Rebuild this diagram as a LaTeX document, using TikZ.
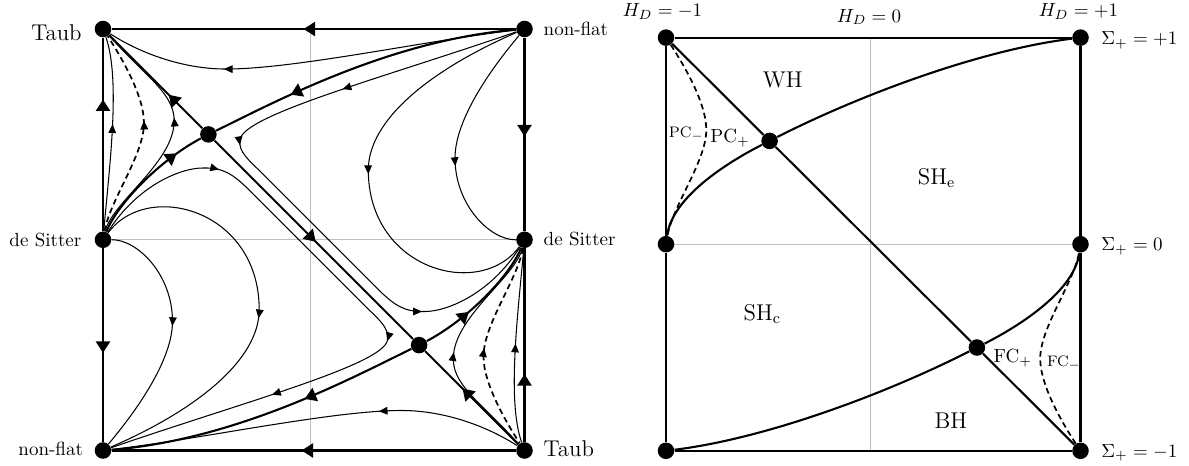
\documentclass[tikz,border=0pt]{standalone}
\usetikzlibrary{arrows.meta, positioning, decorations.markings}

\tikzset{
  fw/.style={postaction={decorate, decoration={markings,
      mark=at position #1 with {\arrow{Triangle[length=4.6pt, width=4pt]}}}}},
  bw/.style={postaction={decorate, decoration={markings,
      mark=at position #1 with {\arrowreversed{Triangle[length=4.6pt, width=4pt]}}}}},
  Fw/.style={postaction={decorate, decoration={markings,
      mark=at position #1 with {\arrow{Triangle[length=6pt, width=7.4pt]}}}}},
  Bw/.style={postaction={decorate, decoration={markings,
      mark=at position #1 with {\arrowreversed{Triangle[length=6pt, width=7.4pt]}}}}}
}

\begin{document}
\begin{tikzpicture}[
    x=0.526pt, y=-0.526pt,
    dot/.style={circle, fill=black, inner sep=0pt, minimum size=8.7pt},
    rim/.style={line width=1.1pt},
    separ/.style={line width=1.1pt},
    thinflow/.style={line width=0.55pt},
    dashline/.style={line width=0.9pt, dash pattern=on 3pt off 2pt},
    axisline/.style={gray!50, line width=0.5pt},
    lab/.style={inner sep=0pt, font=\normalsize},
    labL/.style={inner sep=0pt, font=\large},
    labS/.style={inner sep=0pt, font=\footnotesize}
  ]
  \useasboundingbox (0,0) rectangle (1189,465);

  % left panel: phase portrait
  \draw[axisline] (310.5,29) -- (310.5,450.5);
  \draw[axisline] (103,239) -- (524.5,239);

  \node[dot] (taubA) at (103,29) {};
  \node[dot] (nfA)   at (524.5,29) {};
  \node[dot] (dsA)   at (103,239.75) {};
  \node[dot] (dsB)   at (524.5,239.75) {};
  \node[dot] (nfB)   at (103,450.5) {};
  \node[dot] (taubB) at (524.5,450.5) {};
  \node[dot] (sadA)  at (208.4,134.4) {};
  \node[dot] (sadB)  at (419.1,345.1) {};

  \node[labL, anchor=base east] (taubAl) at (82,40.7) {Taub};
  \node[lab, anchor=base east]  (dsAl)   at (81.7,246.5) {de Sitter};
  \node[lab, anchor=base east]  (nfBl)   at (83.3,455) {non-flat};
  \node[lab, anchor=base west]  (nfAl)   at (543.3,35) {non-flat};
  \node[lab, anchor=base west]  (dsBl)   at (543.3,245.5) {de Sitter};
  \node[labL, anchor=base west] (taubBl) at (543.3,456.7) {Taub};

  % boundary and diagonal
  \draw[rim, Fw=0.525] (nfA) -- (taubA);
  \draw[rim, Fw=0.51] (nfA) -- (dsB);
  \draw[rim, Fw=0.68] (dsA) -- (taubA);
  \draw[rim, Fw=0.54] (dsA) -- (nfB);
  \draw[rim, Fw=0.53] (taubB) -- (nfB);
  \draw[rim, Fw=0.35] (taubB) -- (dsB);
  \draw[rim, Fw=0.36] (sadA) -- (taubA);
  \draw[rim, Fw=0.51] (sadA) -- (sadB);
  \draw[rim, Fw=0.6] (taubB) -- (sadB);

  % separatrices
  \draw[separ, Fw=0.79] (dsA) .. controls (118,203) and (160,160) .. (sadA);
  \draw[separ, Fw=0.74] (nfA) .. controls (390,40) and (275,102) .. (sadA);
  \draw[separ, Bw=0.62] (dsB) .. controls (509.5,276.5) and (467.5,319.5) .. (sadB);
  \draw[separ, Bw=0.63] (nfB) .. controls (237.5,439.5) and (352.5,377.5) .. (sadB);

  % orbits, upper half
  \draw[thinflow, fw=0.71] (nfA) .. controls (430,40) and (300,68) .. (230,69)
    .. controls (180,70) and (135,50) .. (taubA);
  \draw[thinflow, fw=0.27, fw=0.45, fw=0.82] (nfA) .. controls (382.6,77.9) and (244,114.8) .. (240,139.5)
    .. controls (238,152) and (249,160) .. (262,173.2) -- (378,289.2)
    .. controls (395,306) and (405,312) .. (424.2,311.5)
    .. controls (445,312) and (490,295) .. (dsB);
  \draw[thinflow, fw=0.5] (nfA) .. controls (430,70) and (368.3,120) .. (368.3,170)
    .. controls (368.3,270) and (480,300) .. (dsB);
  \draw[thinflow, fw=0.59] (nfA) .. controls (490,70) and (455,120) .. (455,158)
    .. controls (455,205) and (490,240) .. (dsB);
  \draw[thinflow, fw=0.55] (dsA) .. controls (109,170) and (121,80) .. (taubA);
  \draw[dashline, fw=0.56] (dsA) .. controls (110,200) and (144,155) .. (144,123)
    .. controls (144,95) and (120,55) .. (taubA);
  \draw[thinflow, fw=0.56] (dsA) .. controls (112,203) and (170,165) .. (174,125)
    .. controls (177,95) and (148,79) .. (taubA);

  % orbits, lower half
  \draw[thinflow, bw=0.65] (nfB) .. controls (197.5,439.5) and (327.5,411.5) .. (397.5,410.5)
    .. controls (447.5,409.5) and (492.5,429.5) .. (taubB);
  \draw[thinflow, bw=0.25, bw=0.44, bw=0.8] (nfB) .. controls (244.9,401.6) and (383.5,364.7) .. (387.5,340)
    .. controls (389.5,327.5) and (378.5,319.5) .. (365.5,306.3) -- (249.5,190.3)
    .. controls (232.5,173.5) and (222.5,167.5) .. (203.3,168)
    .. controls (182.5,167.5) and (137.5,184.5) .. (dsA);
  \draw[thinflow, bw=0.47] (nfB) .. controls (197.5,409.5) and (259.2,359.5) .. (259.2,309.5)
    .. controls (259.2,209.5) and (147.5,179.5) .. (dsA);
  \draw[thinflow, bw=0.54] (nfB) .. controls (137.5,409.5) and (172.5,359.5) .. (172.5,321.5)
    .. controls (172.5,274.5) and (137.5,239.5) .. (dsA);
  \draw[thinflow, bw=0.49] (dsB) .. controls (518.5,309.5) and (506.5,399.5) .. (taubB);
  \draw[dashline, bw=0.51] (dsB) .. controls (517.5,279.5) and (483.5,324.5) .. (483.5,356.5)
    .. controls (483.5,384.5) and (507.5,424.5) .. (taubB);
  \draw[thinflow, bw=0.52] (dsB) .. controls (515.5,276.5) and (457.5,314.5) .. (453.5,354.5)
    .. controls (450.5,384.5) and (479.5,400.5) .. (taubB);

  % right panel: regions
  \draw[axisline] (870,37.6) -- (870,450.8);
  \draw[axisline] (666,244.2) -- (1080.5,244.2);

  \node[dot] (rTL) at (666,37.6) {};
  \node[dot] (rTR) at (1080.5,37.6) {};
  \node[dot] (rML) at (666,244.2) {};
  \node[dot] (rMR) at (1080.5,244.2) {};
  \node[dot] (rBL) at (666,450.8) {};
  \node[dot] (rBR) at (1080.5,450.8) {};
  \node[dot] (pcplus) at (769.6,140.9) {};
  \node[dot] (fcplus) at (976.9,347.5) {};

  \draw[rim] (rTL) -- (rTR);
  \draw[rim] (rTL) -- (rML);
  \draw[rim] (rML) -- (rBL);
  \draw[rim] (rBL) -- (rBR);
  \draw[rim] (rBR) -- (rMR);
  \draw[rim] (rMR) -- (rTR);
  \draw[rim] (rTL) -- (pcplus) -- (fcplus) -- (rBR);
  \draw[separ] (rML) .. controls (672,198) and (725,163.6) .. (pcplus)
    .. controls (860,95) and (980,50) .. (rTR);
  \draw[separ] (rMR) .. controls (1074.5,290.4) and (1021.5,324.8) .. (fcplus)
    .. controls (886.5,393.4) and (766.5,438.4) .. (rBL);
  \draw[dashline] (rTL) .. controls (682.7,63.1) and (706.3,102.3) .. (706.3,129.7)
    .. controls (706.3,161.1) and (672.9,205.2) .. (rML);
  \draw[dashline] (rBR) .. controls (1063.8,425.3) and (1040.2,386.1) .. (1040.2,358.7)
    .. controls (1040.2,327.3) and (1073.6,283.2) .. (rMR);

  \node[lab, anchor=base] (hdm) at (662.5,16.7) {$H_D=-1$};
  \node[lab, anchor=base] (hdz) at (869,22) {$H_D=0$};
  \node[lab, anchor=base] (hdp) at (1078.5,16.7) {$H_D=+1$};
  \node[lab, anchor=base west] (sgp) at (1101,44.5) {$\Sigma_+=+1$};
  \node[lab, anchor=base west] (sgz) at (1101,250.5) {$\Sigma_+=0$};
  \node[lab, anchor=base west] (sgm) at (1101,457) {$\Sigma_+=-1$};

  \node[labL, anchor=base] (wh) at (782.8,87.3) {WH};
  \node[labL, anchor=base west] (she) at (917.5,184.5) {SH$_\mathrm{e}$};
  \node[labL, anchor=base west] (shc) at (743.3,320) {SH$_\mathrm{c}$};
  \node[labL, anchor=base] (bh) at (950.8,428.3) {BH};
  \node[lab, anchor=base west] (pcl) at (710,142.5) {PC$_+$};
  \node[labS, anchor=base west] (pcm) at (668.5,137.3) {PC$_-$};
  \node[lab, anchor=base west] (fcl) at (993.3,362.7) {FC$_+$};
  \node[labS, anchor=base west] (fcm) at (1046.7,366) {FC$_-$};
\end{tikzpicture}
\end{document}
